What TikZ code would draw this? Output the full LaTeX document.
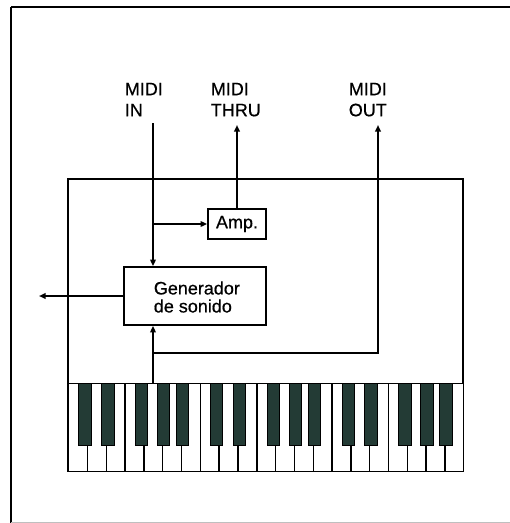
\documentclass[tikz,border=0pt]{standalone}
\usepackage{fontspec}
\setmainfont{Liberation Sans}[FakeBold=0.6]
\usetikzlibrary{arrows.meta}
\definecolor{blackkey}{HTML}{233B35}
\begin{document}
\begin{tikzpicture}[x=1pt,y=-1pt,
  line width=1.7pt,
  lbl/.style={font=\fontsize{18}{21}\selectfont, align=left, inner sep=0pt, anchor=north west},
  blockbox/.style={draw, inner sep=0pt, font=\fontsize{18}{18}\selectfont},
  arr/.style={-{Triangle[length=6.5pt,width=5.5pt]}},
  wkey/.style={draw, fill=white, line width=1.4pt},
  bkey/.style={fill=blackkey, draw=black, line width=0.6pt}]
\useasboundingbox (0,0) rectangle (510,523);
% outer frame
\draw (11,7) -- (510,7);
\draw (11,7) -- (11,523);
\draw[black!25, line width=0.6pt] (11,522) -- (510,522);
% body
\node[draw, inner sep=0pt, minimum width=395pt, minimum height=292pt] (body) at (265.5,325) {};
% keyboard white keys
\foreach \i in {0,...,20} {
  \node[wkey, inner sep=0pt, minimum width=18.81pt, minimum height=88pt, anchor=north west] (w\i) at ({68+18.81*\i},383) {};
}
% black keys: sep index and offset
\foreach \s/\o in {1/-8.5,2/-4.5,4/-8.3,5/-5,6/-5,
                   8/-8.5,9/-4.5,11/-8.3,12/-5,13/-5,
                   15/-8.5,16/-4.5,18/-8.3,19/-5,20/-5} {
  \node[bkey, inner sep=0pt, minimum width=12.4pt, minimum height=62pt, anchor=north west] (b\s) at ({68+18.81*\s+\o},383) {};
}
% labels
\node[lbl] (lin) at (124,82) {MIDI\\IN};
\node[lbl] (lthru) at (210,82) {MIDI\\THRU};
\node[lbl] (lout) at (348,82) {MIDI\\OUT};
% blocks
\node[blockbox, minimum width=58pt, minimum height=30pt] (amp) at (237,224) {Amp.};
\node[blockbox, minimum width=142pt, minimum height=58pt] (gen) at (195,296) {};
\node[font=\fontsize{18}{18}\selectfont, align=left, inner sep=0pt, anchor=west] (gentext) at (153,297) {Generador\\de sonido};
% coordinates
\coordinate (inTop) at (153,123);
\coordinate (thruTop) at (237,125);
\coordinate (outTop) at (378,125);
\coordinate (kbTop) at (153,383);
\coordinate (fbCorner) at (153,353);
\coordinate (outCorner) at (378,353);
\coordinate (leftOut) at (39,296);
% connectors
\draw[arr] (inTop) -- (inTop |- gen.north);
\draw[arr] (inTop |- amp.west) -- (amp.west);
\draw[arr] (amp.north) -- (thruTop);
\draw[arr] (kbTop) -- (kbTop |- gen.south);
\draw[arr] (fbCorner) -- (outCorner) -- (outTop);
\draw[arr] (gen.west) -- (leftOut);
\end{tikzpicture}
\end{document}
